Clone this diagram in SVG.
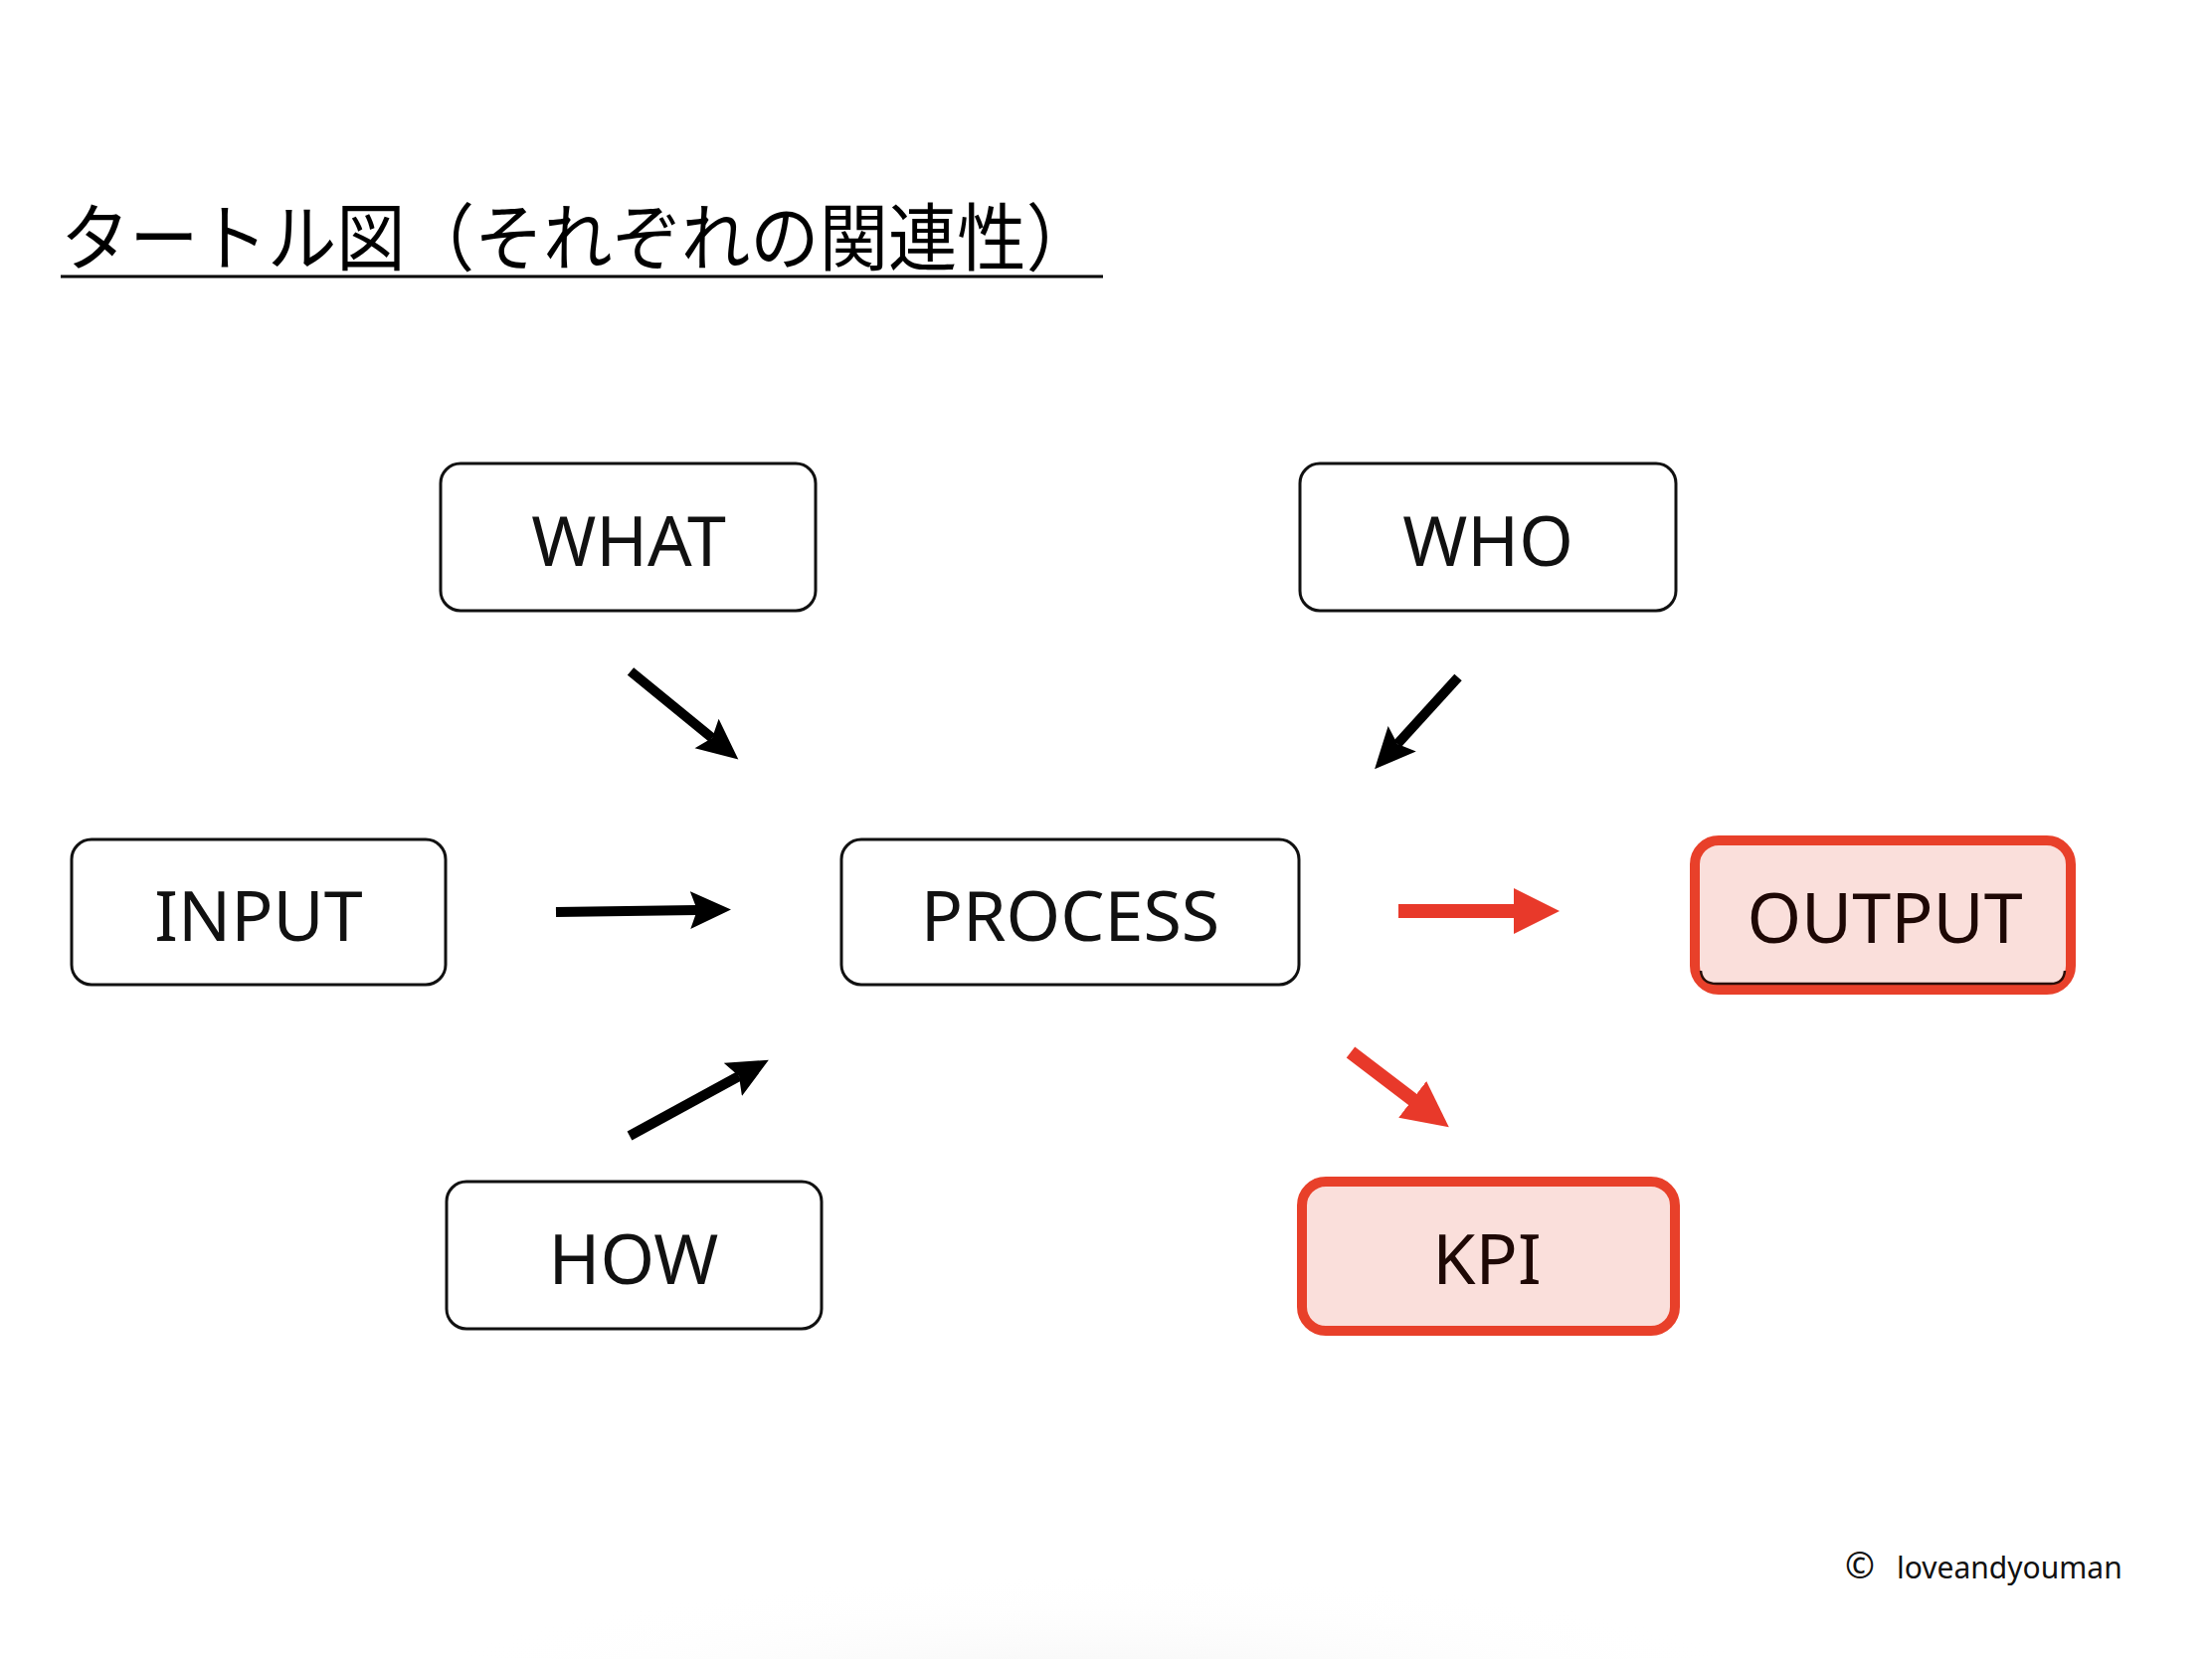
<svg xmlns="http://www.w3.org/2000/svg" width="2224" height="1668" viewBox="0 0 2224 1668">
<style>
.box{fill:#ffffff;stroke:#111111;stroke-width:3}
.hot{fill:#FADFDB;stroke:#E8402A;stroke-width:10}
.lbl{font-family:"Noto Sans","DejaVu Sans",sans-serif;font-size:70px;fill:#111111;text-anchor:middle}
.lblhot{fill:#1E0805}
.blk{stroke:#000000;stroke-width:10;fill:none}
.red{stroke:#E8392A;stroke-width:14;fill:none}
</style>
<defs>
<marker id="ahB" markerUnits="userSpaceOnUse" markerWidth="44" markerHeight="40" refX="7" refY="19" orient="auto" viewBox="0 0 44 38">
<path d="M0,0 L41,19 L0,38 L7,19 z" fill="#000000"/>
</marker>
<marker id="ahR" markerUnits="userSpaceOnUse" markerWidth="48" markerHeight="48" refX="1" refY="23" orient="auto" viewBox="0 0 48 46">
<path d="M0,0 L46,23 L0,46 z" fill="#E8392A"/>
</marker>
<radialGradient id="shadow" cx="0.5" cy="0.5" r="0.5">
<stop offset="0" stop-color="#f0f0f0"/>
<stop offset="1" stop-color="#ffffff" stop-opacity="0"/>
</radialGradient>
</defs>
<rect x="0" y="0" width="2224" height="1668" fill="#ffffff"/>
<ellipse cx="1100" cy="1720" rx="720" ry="140" fill="url(#shadow)"/>

<g id="title">
<text x="61" y="266" font-family="'Noto Sans CJK JP','Noto Sans',sans-serif" font-size="74" fill="#000000" textLength="1040" lengthAdjust="spacingAndGlyphs">タートル図（それぞれの関連性）</text>
<line x1="61" y1="278" x2="1109" y2="278" stroke="#000000" stroke-width="3"/>
</g>

<g id="connectors">
<line class="blk" x1="634" y1="675" x2="716" y2="742" marker-end="url(#ahB)"/>
<line class="blk" x1="1466" y1="681" x2="1405" y2="748" marker-end="url(#ahB)"/>
<line class="blk" x1="559" y1="917" x2="701" y2="915" marker-end="url(#ahB)"/>
<line class="blk" x1="633" y1="1142" x2="743" y2="1082" marker-end="url(#ahB)"/>
<line class="red" x1="1406" y1="916" x2="1523" y2="916" marker-end="url(#ahR)"/>
<line class="red" x1="1358" y1="1058" x2="1421" y2="1106" marker-end="url(#ahR)"/>
</g>

<g id="what">
<rect class="box" x="443" y="466" width="377" height="148" rx="20"/>
<text class="lbl" x="632" y="569">WHAT</text>
</g>
<g id="who">
<rect class="box" x="1307" y="466" width="378" height="148" rx="20"/>
<text class="lbl" x="1496" y="569">WHO</text>
</g>
<g id="input">
<rect class="box" x="72" y="844" width="376" height="146" rx="20"/>
<text class="lbl" x="260" y="946">INPUT</text>
</g>
<g id="process">
<rect class="box" x="846" y="844" width="460" height="146" rx="20"/>
<text class="lbl" x="1076" y="946">PROCESS</text>
</g>
<g id="output">
<rect class="hot" x="1704" y="845" width="378" height="150" rx="24"/>
<path d="M1710,976 Q1711,989 1726,989 L2062,989 Q2075,989 2076,976" fill="none" stroke="#2a0f08" stroke-width="2.5"/>
<text class="lbl lblhot" x="1895" y="948">OUTPUT</text>
</g>
<g id="how">
<rect class="box" x="449" y="1188" width="377" height="148" rx="20"/>
<text class="lbl" x="637" y="1291">HOW</text>
</g>
<g id="kpi">
<rect class="hot" x="1309" y="1188" width="375" height="150" rx="24"/>
<text class="lbl lblhot" x="1495" y="1291">KPI</text>
</g>

<g id="footer">
<text font-family="'Noto Sans','DejaVu Sans',sans-serif" font-size="30" fill="#111111" y="1587"><tspan x="1855" font-size="36">©</tspan><tspan x="1907">loveandyouman</tspan></text>
</g>
</svg>
